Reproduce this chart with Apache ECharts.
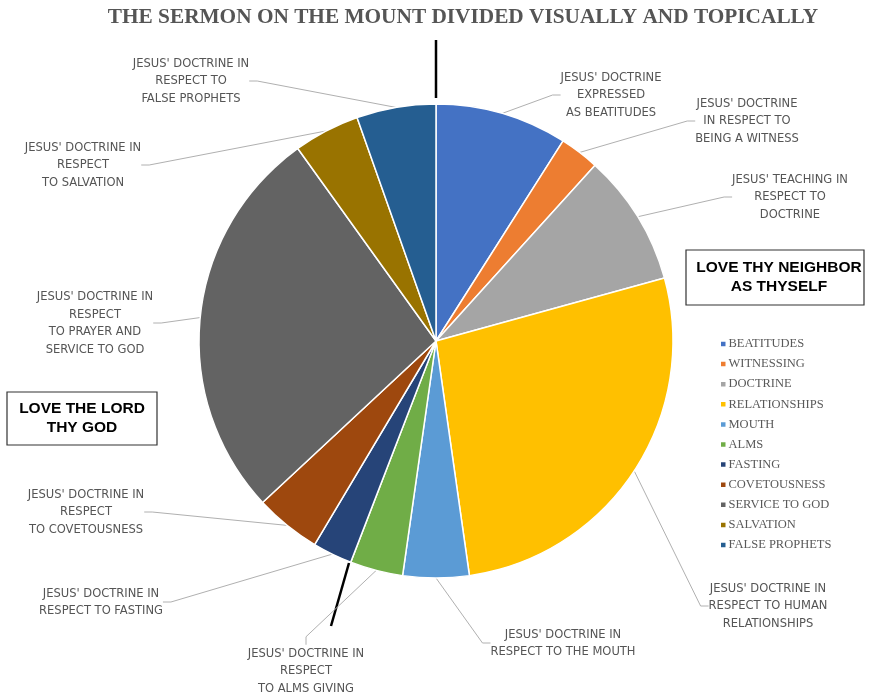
<!DOCTYPE html>
<html>
<head>
<meta charset="utf-8">
<script src="https://cdn.jsdelivr.net/npm/echarts@6/dist/echarts.min.js"></script>
<style>
html,body{margin:0;padding:0;background:#fff;}
#chart{width:870px;height:698px;}
</style>
</head>
<body>
<div id="chart"></div>
<script>
// ---- data ----
const categories = ['BEATITUDES','WITNESSING','DOCTRINE','RELATIONSHIPS','MOUTH','ALMS','FASTING','COVETOUSNESS','SERVICE TO GOD','SALVATION','FALSE PROPHETS'];
const verses = [10, 3, 10, 30, 5, 4, 3, 5, 30, 5, 6];
const sliceLabels = [
  "JESUS' DOCTRINE\nEXPRESSED\nAS BEATITUDES",
  "JESUS' DOCTRINE\nIN RESPECT TO\nBEING A WITNESS",
  "JESUS' TEACHING IN\nRESPECT TO\nDOCTRINE",
  "JESUS' DOCTRINE IN\nRESPECT TO HUMAN\nRELATIONSHIPS",
  "JESUS' DOCTRINE IN\nRESPECT TO THE MOUTH",
  "JESUS' DOCTRINE IN\nRESPECT\nTO ALMS GIVING",
  "JESUS' DOCTRINE IN\nRESPECT TO FASTING",
  "JESUS' DOCTRINE IN\nRESPECT\nTO COVETOUSNESS",
  "JESUS' DOCTRINE IN\nRESPECT\nTO PRAYER AND\nSERVICE TO GOD",
  "JESUS' DOCTRINE IN\nRESPECT\nTO SALVATION",
  "JESUS' DOCTRINE IN\nRESPECT TO\nFALSE PROPHETS"
];
const titleText = 'THE SERMON ON THE MOUNT DIVIDED VISUALLY AND TOPICALLY';
const boxTexts = ['LOVE THY NEIGHBOR\nAS THYSELF', 'LOVE THE LORD\nTHY GOD'];

// ---- styles / layout ----
const colors = ['#4472C4','#ED7D31','#A5A5A5','#FFC000','#5B9BD5','#70AD47','#264478','#9E480E','#636363','#997300','#255E91'];
const labelPos = [[611,95],[747,121],[790,197],[768,606],[563,643],[306,671],[101,602],[86,512],[95,323],[83,165],[191,81]];
const labelFont = '"Liberation Sans Narrow", "DejaVu Sans Condensed", "Noto Sans", sans-serif';

const chart = echarts.init(document.getElementById('chart'), null, {renderer:'canvas'});
chart.setOption({
  animation: false,
  backgroundColor: '#fff',
  color: colors,
  legend: {
    orient: 'vertical',
    left: 714,
    top: 332,
    itemWidth: 6.5,
    itemHeight: 6.5,
    itemGap: 6.1,
    icon: 'rect',
    selectedMode: false,
    textStyle: {
      fontFamily: '"Liberation Serif", "Times New Roman", serif',
      fontSize: 12.5,
      lineHeight: 14,
      color: '#595959',
      padding: [0,0,0,-3]
    },
    data: categories
  },
  series: [{
    type: 'pie',
    center: [436, 341],
    radius: 237,
    startAngle: 90,
    clockwise: true,
    avoidLabelOverlap: false,
    data: categories.map((c, i) => ({ name: c, value: verses[i] })),
    itemStyle: { borderColor: '#fff', borderWidth: 1.5 },
    label: {
      show: true,
      position: 'outside',
      formatter: p => sliceLabels[p.dataIndex],
      fontFamily: labelFont,
      fontSize: 12.8,
      lineHeight: 17.5,
      color: '#555555',
      align: 'center'
    },
    labelLine: {
      show: true,
      length: 10,
      length2: 8,
      lineStyle: { color: '#b0b0b0', width: 1 }
    },
    labelLayout: function (p) {
      const q = labelPos[p.dataIndex];
      return { x: q[0], y: q[1], align: 'center', verticalAlign: 'middle' };
    },
    emphasis: { disabled: true }
  }],
  graphic: [
    {
      type: 'text', x: 463, y: 17,
      style: {
        text: titleText, align: 'center', verticalAlign: 'middle',
        font: 'bold 21.3px "Liberation Serif", "Times New Roman", serif',
        fill: '#555555'
      }
    },
    { type: 'line', shape: { x1: 436, y1: 40, x2: 436, y2: 98 }, style: { stroke: '#000', lineWidth: 2.5 } },
    { type: 'line', shape: { x1: 349, y1: 563, x2: 331, y2: 626 }, style: { stroke: '#000', lineWidth: 2.5 } },
    { type: 'rect', shape: { x: 686, y: 250, width: 178, height: 55 }, style: { fill: '#fff', stroke: '#333', lineWidth: 1.2 } },
    {
      type: 'text', x: 779, y: 277.5,
      style: {
        text: boxTexts[0], align: 'center', verticalAlign: 'middle',
        font: 'bold 15.5px "Liberation Sans", Arial, sans-serif', lineHeight: 19, fill: '#000'
      }
    },
    { type: 'rect', shape: { x: 7, y: 392, width: 150, height: 53 }, style: { fill: '#fff', stroke: '#333', lineWidth: 1.2 } },
    {
      type: 'text', x: 82, y: 418,
      style: {
        text: boxTexts[1], align: 'center', verticalAlign: 'middle',
        font: 'bold 15.5px "Liberation Sans", Arial, sans-serif', lineHeight: 19, fill: '#000'
      }
    }
  ]
});
</script>
</body>
</html>
